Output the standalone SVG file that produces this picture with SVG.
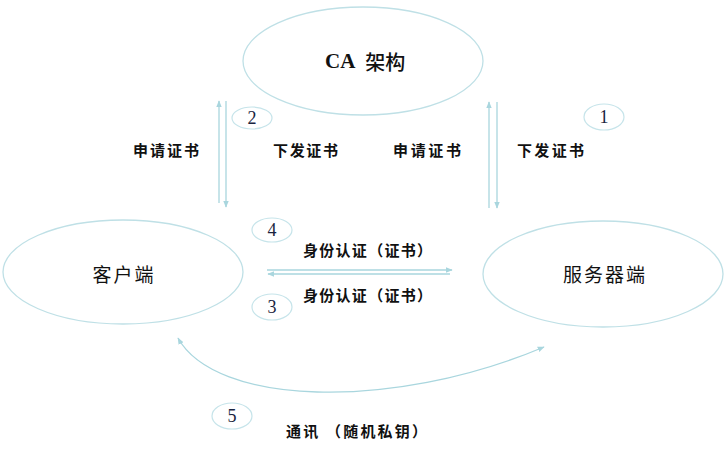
<svg xmlns="http://www.w3.org/2000/svg" width="728" height="453" viewBox="0 0 728 453">
<style>
.node{fill:#fff;stroke:#bfe0e6;stroke-width:1.3}
.num{fill:#fff;stroke:#c6e4ea;stroke-width:1.2}
.numt{font-family:"Liberation Serif",serif;font-size:18px;fill:#1a2440;text-anchor:middle;dominant-baseline:central}
.big{font-family:"Noto Sans CJK SC",sans-serif;font-size:19px;fill:#111;text-anchor:middle;dominant-baseline:central}
.lbl{font-family:"Noto Sans CJK SC",sans-serif;font-size:15px;font-weight:bold;fill:#111;dominant-baseline:central}
.conn{fill:none;stroke:#a9d6de;stroke-width:1.3}
</style>
<defs>
<marker id="ah" viewBox="0 0 10 10" refX="9" refY="5" markerWidth="7" markerHeight="7" orient="auto-start-reverse" markerUnits="userSpaceOnUse">
<path d="M0,1 L10,5 L0,9 z" fill="#a9d6de"/>
</marker>
</defs>
<g id="ca">
<ellipse class="node" cx="363" cy="61" rx="120" ry="54"/>
<text x="325" y="61" class="big" style="text-anchor:start;font-size:20px;font-weight:500"><tspan style="font-family:'Liberation Serif',serif;font-weight:bold;font-size:21px">CA</tspan><tspan dx="10">架构</tspan></text>
</g>
<g id="client">
<ellipse class="node" cx="123" cy="272" rx="120" ry="52"/>
<text x="124" y="273" class="big" letter-spacing="2">客户端</text>
</g>
<g id="server">
<ellipse class="node" cx="603" cy="274" rx="120" ry="53"/>
<text x="605" y="273" class="big" letter-spacing="2">服务器端</text>
</g>
<g id="connectors">
<line class="conn" x1="219" y1="203" x2="219" y2="101" marker-end="url(#ah)"/>
<line class="conn" x1="226" y1="101" x2="226" y2="207" marker-end="url(#ah)"/>
<line class="conn" x1="489" y1="208" x2="489" y2="102" marker-end="url(#ah)"/>
<line class="conn" x1="497" y1="102" x2="497" y2="208" marker-end="url(#ah)"/>
<line class="conn" x1="267" y1="270" x2="452" y2="270" marker-end="url(#ah)"/>
<line class="conn" x1="450" y1="274" x2="268" y2="274" marker-end="url(#ah)"/>
<path class="conn" d="M178,338 C215,405 390,412 544,347" marker-start="url(#ah)" marker-end="url(#ah)"/>
</g>
<g id="n1"><ellipse class="num" cx="604" cy="117" rx="20" ry="13"/><text x="604" y="117" class="numt">1</text></g>
<g id="n2"><ellipse class="num" cx="252" cy="118" rx="20" ry="11"/><text x="252" y="118" class="numt">2</text></g>
<g id="n3"><ellipse class="num" cx="272" cy="307" rx="20" ry="13"/><text x="272" y="307" class="numt">3</text></g>
<g id="n4"><ellipse class="num" cx="272" cy="230" rx="20" ry="12"/><text x="272" y="230" class="numt">4</text></g>
<g id="n5"><ellipse class="num" cx="232" cy="416" rx="20" ry="13"/><text x="232" y="416" class="numt">5</text></g>
<g id="labels">
<text x="133" y="149" class="lbl" textLength="66" lengthAdjust="spacing">申请证书</text>
<text x="273" y="149" class="lbl" textLength="65" lengthAdjust="spacing">下发证书</text>
<text x="393" y="149" class="lbl" textLength="68" lengthAdjust="spacing">申请证书</text>
<text x="517" y="149" class="lbl" textLength="67" lengthAdjust="spacing">下发证书</text>
<text x="303" y="249" class="lbl" textLength="129" lengthAdjust="spacing">身份认证（证书）</text>
<text x="303" y="294" class="lbl" textLength="129" lengthAdjust="spacing">身份认证（证书）</text>
<text x="286" y="430" class="lbl" textLength="141" lengthAdjust="spacing">通讯 （随机私钥）</text>
</g>
</svg>
